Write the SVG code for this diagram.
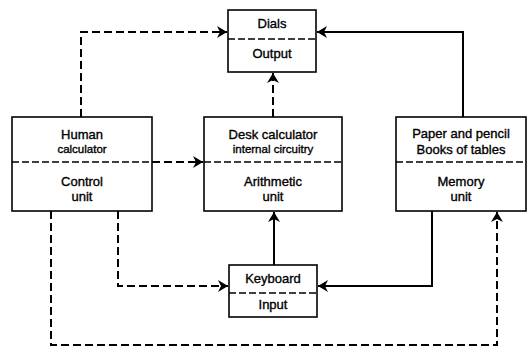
<svg xmlns="http://www.w3.org/2000/svg" width="529" height="349" viewBox="0 0 529 349">
<defs>
<marker id="ah" markerWidth="12" markerHeight="12" refX="10" refY="6" orient="auto" markerUnits="userSpaceOnUse">
<path d="M0,0 L10,6 L0,12 L3,6 Z" fill="#000"/>
</marker>
<style>
.box{fill:#fff;stroke:#000;stroke-width:1.6}
.div{stroke:#000;stroke-width:1.4;stroke-dasharray:7,3;fill:none}
.c{fill:none;stroke:#000;stroke-width:2}
.d{stroke-dasharray:8,4}
.t{font-family:"Liberation Sans",Arial,sans-serif;font-size:13px;text-anchor:middle;fill:#000;stroke:#000;stroke-width:0.35}
.s{font-size:11.5px}
</style>
</defs>
<rect width="529" height="349" fill="#fff"/>
<g id="connectors">
<path class="c d" d="M81,117 V32 H227" marker-end="url(#ah)"/>
<path class="c" d="M463,117 V32 H317" marker-end="url(#ah)"/>
<path class="c d" d="M273,117 V73" marker-end="url(#ah)"/>
<path class="c d" d="M152,162 H203" marker-end="url(#ah)"/>
<path class="c d" d="M118,211 V286 H228" marker-end="url(#ah)"/>
<path class="c" d="M274,265 V212" marker-end="url(#ah)"/>
<path class="c" d="M432,211 V286 H318" marker-end="url(#ah)"/>
<path class="c d" d="M51,211 V345 H497 V212" marker-end="url(#ah)"/>
</g>
<g id="dials">
<rect class="box" x="228" y="10" width="88" height="62"/>
<line class="div" x1="228" y1="39" x2="316" y2="39"/>
<text class="t" x="272" y="28">Dials</text>
<text class="t" x="272" y="58">Output</text>
</g>
<g id="human">
<rect class="box" x="12" y="117" width="140" height="94"/>
<line class="div" x1="12" y1="162" x2="152" y2="162"/>
<text class="t" x="82" y="139">Human</text>
<text class="t s" x="82" y="153">calculator</text>
<text class="t" x="82" y="186">Control</text>
<text class="t" x="82" y="201">unit</text>
</g>
<g id="desk">
<rect class="box" x="204" y="117" width="138" height="94"/>
<line class="div" x1="204" y1="162" x2="342" y2="162"/>
<text class="t" x="273" y="139">Desk calculator</text>
<text class="t s" x="273" y="153">internal circuitry</text>
<text class="t" x="273" y="186">Arithmetic</text>
<text class="t" x="273" y="201">unit</text>
</g>
<g id="paper">
<rect class="box" x="396" y="117" width="130" height="94"/>
<line class="div" x1="396" y1="162" x2="526" y2="162"/>
<text class="t" x="461" y="138">Paper and pencil</text>
<text class="t" x="461" y="154">Books of tables</text>
<text class="t" x="461" y="186">Memory</text>
<text class="t" x="461" y="201">unit</text>
</g>
<g id="keyboard">
<rect class="box" x="229" y="265" width="88" height="52"/>
<line class="div" x1="229" y1="293" x2="317" y2="293"/>
<text class="t" x="273" y="283">Keyboard</text>
<text class="t" x="273" y="309">Input</text>
</g>
</svg>
